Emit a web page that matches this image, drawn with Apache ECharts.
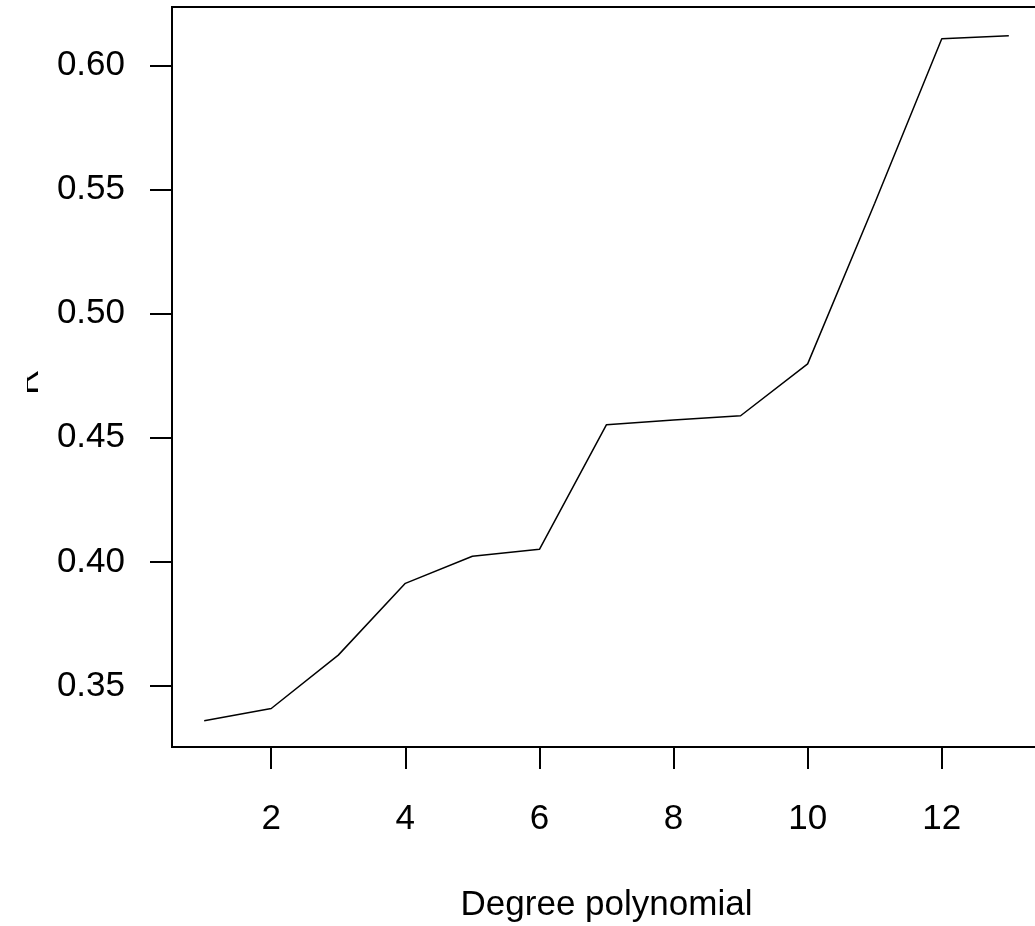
<!DOCTYPE html>
<html>
<head>
<meta charset="utf-8">
<script src="https://cdn.jsdelivr.net/npm/echarts@6/dist/echarts.min.js"></script>
<style>
html,body{margin:0;padding:0;background:#fff;}
#c{width:1035px;height:926px;}
</style>
</head>
<body>
<div id="c"></div>
<script>
const degrees = [1,2,3,4,5,6,7,8,9,10,11,12,13];
const rValues = [0.3361,0.3410,0.3625,0.3914,0.4023,0.4051,0.4553,0.4572,0.4589,0.4798,0.5445,0.6107,0.6119];
const xTicks = [2,4,6,8,10,12];
const yTicks = [0.35,0.40,0.45,0.50,0.55,0.60];
const xTitle = 'Degree polynomial';
const yTitle = 'R';

const font = "'Liberation Sans', Arial, sans-serif";
const chart = echarts.init(document.getElementById('c'), null, {renderer:'canvas'});
chart.setOption({
  animation:false,
  backgroundColor:'#fff',
  grid:{left:172, top:7, width:869, height:740, outerBoundsMode:'none', containLabel:false,
    show:true, borderColor:'#000', borderWidth:2, backgroundColor:'transparent'},
  xAxis:{
    type:'value', min:0.52, max:13.48,
    name:xTitle, nameLocation:'middle', nameGap:141,
    nameTextStyle:{fontFamily:font, fontSize:35, color:'#000', verticalAlign:'top'},
    axisLine:{show:false},
    axisTick:{show:true, inside:false, length:22, customValues:xTicks, lineStyle:{color:'#000', width:2}},
    axisLabel:{customValues:xTicks, margin:55, fontFamily:font, fontSize:35, color:'#000'},
    splitLine:{show:false}
  },
  yAxis:{
    type:'value', min:0.3255, max:0.6235,
    name:yTitle, nameLocation:'middle', nameGap:116, nameRotate:90,
    nameTextStyle:{fontFamily:font, fontSize:35, color:'#000', padding:[0,10,0,0]},
    axisLine:{show:false},
    axisTick:{show:true, inside:false, length:22, customValues:yTicks, lineStyle:{color:'#000', width:2}},
    axisLabel:{customValues:yTicks, margin:47, fontFamily:font, fontSize:35, color:'#000',
      formatter:function(v){return v.toFixed(2);}},
    splitLine:{show:false}
  },
  series:[{
    type:'line',
    data:degrees.map((d,i)=>[d,rValues[i]]),
    showSymbol:false,
    symbol:'none',
    lineStyle:{color:'#000', width:1.5},
    clip:false
  }],
  graphic:[{type:'rect', left:0, top:350, shape:{width:27, height:60}, style:{fill:'#fff'}, z:100}]
});
</script>
</body>
</html>
